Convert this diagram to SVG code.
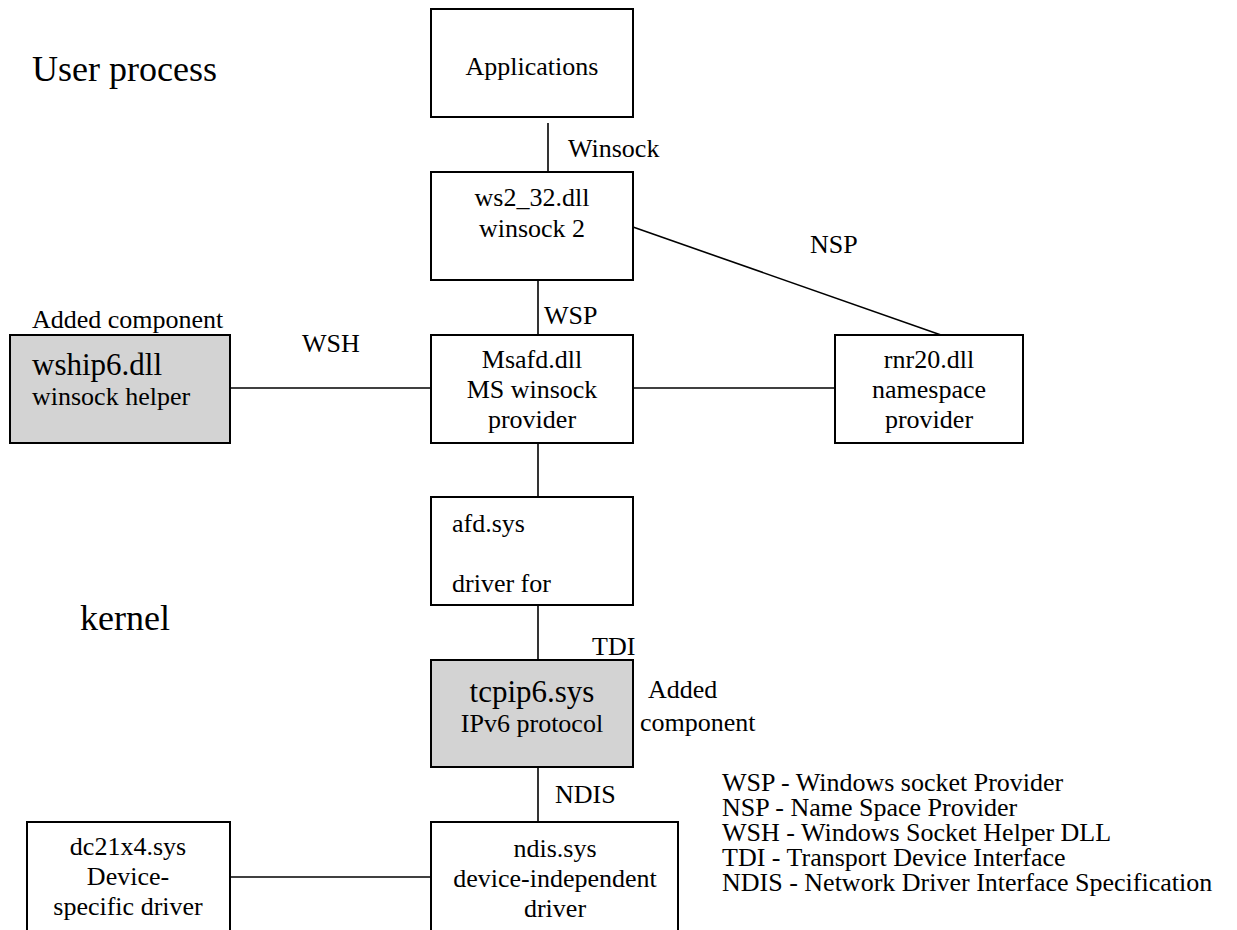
<svg xmlns="http://www.w3.org/2000/svg" width="1237" height="930" viewBox="0 0 1237 930" font-family="'Liberation Serif', 'Times New Roman', serif">
<style>
text{font-family:"Liberation Serif","Times New Roman",serif;font-size:26px;fill:#000}
.c{text-anchor:middle}
.big{font-size:31px}
.hd{font-size:36px}
.box{fill:#fff;stroke:#000;stroke-width:2}
.gray{fill:#d3d3d3;stroke:#000;stroke-width:2}
.ln{stroke:#000;stroke-width:1.6;fill:none}
</style>
<rect width="1237" height="930" fill="#fff"/>
<text class="hd" x="32" y="81">User process</text>
<text class="hd" x="80" y="630">kernel</text>

<g id="connectors">
<line class="ln" x1="548" y1="123" x2="548" y2="172"/>
<line class="ln" x1="538" y1="280" x2="538" y2="335"/>
<line class="ln" x1="538" y1="443" x2="538" y2="497"/>
<line class="ln" x1="538" y1="605" x2="538" y2="660"/>
<line class="ln" x1="538" y1="767" x2="538" y2="822"/>
<line class="ln" x1="230" y1="388" x2="431" y2="388"/>
<line class="ln" x1="633" y1="388" x2="835" y2="388"/>
<line class="ln" x1="633" y1="227" x2="941" y2="335"/>
<line class="ln" x1="230" y1="877" x2="431" y2="877"/>
<text x="568" y="157">Winsock</text>
<text x="544" y="324">WSP</text>
<text x="302" y="352">WSH</text>
<text x="810" y="253">NSP</text>
<text x="592" y="655">TDI</text>
<text x="555" y="803">NDIS</text>
</g>

<g id="applications">
<rect class="box" x="431" y="9" width="202" height="108"/>
<text class="c" x="532" y="75">Applications</text>
</g>
<g id="ws2_32">
<rect class="box" x="431" y="172" width="202" height="108"/>
<text class="c" x="532" y="206">ws2_32.dll</text>
<text class="c" x="532" y="237">winsock 2</text>
</g>
<g id="wship6">
<text x="32" y="328">Added component</text>
<rect class="gray" x="10" y="335" width="220" height="108"/>
<text class="big" x="32" y="375">wship6.dll</text>
<text x="32" y="405">winsock helper</text>
</g>
<g id="msafd">
<rect class="box" x="431" y="335" width="202" height="108"/>
<text class="c" x="532" y="368">Msafd.dll</text>
<text class="c" x="532" y="398">MS winsock</text>
<text class="c" x="532" y="428">provider</text>
</g>
<g id="rnr20">
<rect class="box" x="835" y="335" width="188" height="108"/>
<text class="c" x="929" y="368">rnr20.dll</text>
<text class="c" x="929" y="398">namespace</text>
<text class="c" x="929" y="428">provider</text>
</g>
<g id="afd">
<rect class="box" x="431" y="497" width="202" height="108"/>
<text x="452" y="532">afd.sys</text>
<text x="452" y="592">driver for</text>
</g>
<g id="tcpip6">
<rect class="gray" x="431" y="660" width="202" height="107"/>
<text class="c big" x="532" y="702">tcpip6.sys</text>
<text class="c" x="532" y="732">IPv6 protocol</text>
<text x="648" y="698">Added</text>
<text x="640" y="731">component</text>
</g>
<g id="ndis">
<rect class="box" x="431" y="822" width="247" height="120"/>
<text class="c" x="555" y="857">ndis.sys</text>
<text class="c" x="555" y="887">device-independent</text>
<text class="c" x="555" y="917">driver</text>
</g>
<g id="dc21x4">
<rect class="box" x="27" y="822" width="203" height="120"/>
<text class="c" x="128" y="855">dc21x4.sys</text>
<text class="c" x="128" y="885">Device-</text>
<text class="c" x="128" y="915">specific driver</text>
</g>
<g id="legend">
<text x="722" y="791">WSP - Windows socket Provider</text>
<text x="722" y="816">NSP - Name Space Provider</text>
<text x="722" y="841">WSH - Windows Socket Helper DLL</text>
<text x="722" y="866">TDI - Transport Device Interface</text>
<text x="722" y="891">NDIS - Network Driver Interface Specification</text>
</g>
</svg>
